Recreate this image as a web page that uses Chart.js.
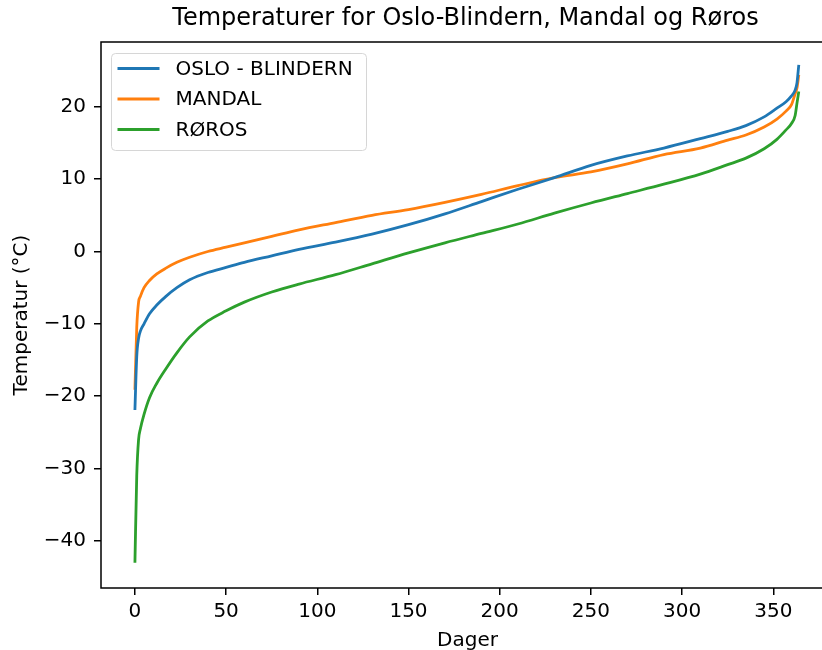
<!DOCTYPE html>
<html>
<head>
<meta charset="utf-8">
<script src="https://cdn.jsdelivr.net/npm/chart.js@4.4.1/dist/chart.umd.min.js"></script>
<style>
  html, body { margin: 0; padding: 0; background: #fff; overflow: hidden; }
  #wrap { width: 850px; height: 653px; }
</style>
</head>
<body>
<div id="wrap"><canvas id="chart" width="850" height="653"></canvas></div>
<script>
// sorted daily temperatures at these day indices
const days = [0, 1, 2, 3, 5, 8, 12, 17, 23, 30, 40, 50, 60, 75, 90, 110, 130, 150, 170, 190,
  210, 230, 250, 270, 290, 310, 325, 335, 345, 352, 357, 360, 362, 363, 364];
const oslo = [-21.9, -14.5, -12.0, -11.0, -10.0, -8.6, -7.4, -6.2, -5.0, -3.9, -2.9, -2.2, -1.5, -0.6, 0.3, 1.3, 2.4, 3.7, 5.2, 6.9,
  8.6, 10.2, 11.9, 13.2, 14.3, 15.6, 16.6, 17.4, 18.6, 19.8, 20.7, 21.5, 22.3, 23.3, 25.8];
const mandal = [-19.1, -10.5, -7.0, -6.2, -5.0, -4.0, -3.1, -2.3, -1.5, -0.8, 0.0, 0.6, 1.2, 2.1, 3.0, 4.0, 5.0, 5.8, 6.8, 7.9,
  9.1, 10.2, 11.0, 12.1, 13.4, 14.3, 15.4, 16.1, 17.2, 18.3, 19.4, 20.3, 21.8, 22.6, 24.4];
const roros = [-43.0, -31.0, -26.0, -24.5, -22.5, -20.2, -18.2, -16.2, -14.0, -11.8, -9.6, -8.2, -7.0, -5.6, -4.5, -3.2, -1.7, -0.2, 1.2, 2.5,
  3.8, 5.3, 6.7, 8.0, 9.3, 10.7, 12.0, 12.9, 14.2, 15.5, 16.8, 17.7, 18.8, 20.5, 22.1];

const seriesNames = ['OSLO - BLINDERN', 'MANDAL', 'RØROS'];
const colors = ['#1f77b4', '#ff7f0e', '#2ca02c'];
const xTicks = [0, 50, 100, 150, 200, 250, 300, 350];
const yTicks = [-40, -30, -20, -10, 0, 10, 20];
const titleText = 'Temperaturer for Oslo-Blindern, Mandal og Røros';

Chart.defaults.font.family = '"DejaVu Sans", sans-serif';
Chart.defaults.font.size = 20;
Chart.defaults.color = '#000';

const toPoints = vals => days.map((d, i) => ({ x: d, y: vals[i] }));

// matplotlib-like frame, title over the axes and legend inside them
const frame = {
  id: 'frame',
  afterDatasetsDraw(chart) {
    const { ctx, chartArea: a } = chart;
    ctx.save();
    ctx.strokeStyle = '#000';
    ctx.lineWidth = 1.5;
    ctx.strokeRect(a.left, a.top, a.right - a.left, a.bottom - a.top);

    ctx.fillStyle = '#000';
    ctx.font = '24px "DejaVu Sans"';
    ctx.textAlign = 'center';
    ctx.textBaseline = 'middle';
    ctx.fillText(titleText, (a.left + a.right) / 2 - 2, 19);

    const x = a.left + 10.5, y = a.top + 11.5, w = 255, h = 97;
    ctx.beginPath();
    ctx.roundRect(x, y, w, h, 4);
    ctx.fillStyle = 'rgba(255,255,255,0.8)';
    ctx.fill();
    ctx.strokeStyle = '#d6d6d6';
    ctx.lineWidth = 1;
    ctx.stroke();
    ctx.font = '20px "DejaVu Sans"';
    ctx.textAlign = 'left';
    chart.data.datasets.forEach((ds, i) => {
      const cy = y + 15 + i * 30.5;
      ctx.strokeStyle = ds.borderColor;
      ctx.lineWidth = ds.borderWidth;
      ctx.beginPath();
      ctx.moveTo(x + 6, cy);
      ctx.lineTo(x + 48, cy);
      ctx.stroke();
      ctx.fillStyle = '#000';
      ctx.fillText(ds.label, x + 64, cy + 1);
    });
    ctx.restore();
  }
};

new Chart(document.getElementById('chart'), {
  type: 'line',
  data: {
    datasets: [oslo, mandal, roros].map((vals, i) => ({
      label: seriesNames[i],
      data: toPoints(vals),
      borderColor: colors[i],
      backgroundColor: colors[i],
      borderWidth: 2.8,
      pointRadius: 0,
      cubicInterpolationMode: 'monotone',
      fill: false
    }))
  },
  options: {
    responsive: false,
    animation: false,
    layout: { padding: { left: 0, right: 16, top: 42, bottom: 0 } },
    plugins: {
      legend: { display: false },
      tooltip: { enabled: false },
      title: { display: false }
    },
    scales: {
      x: {
        type: 'linear',
        min: -18.6,
        max: 383.3,
        afterFit: s => { s.height = 65; },
        afterBuildTicks: s => { s.ticks = xTicks.map(v => ({ value: v })); },
        border: { display: false },
        grid: { drawOnChartArea: false, drawTicks: true, tickLength: 7, color: '#000', lineWidth: 1.5 },
        ticks: { padding: 5, maxRotation: 0, autoSkip: false },
        title: { display: true, text: 'Dager', padding: { top: 0, bottom: 0 } }
      },
      y: {
        type: 'linear',
        min: -46.5,
        max: 28.95,
        afterFit: s => { s.width = 101; },
        afterBuildTicks: s => { s.ticks = yTicks.map(v => ({ value: v })); },
        border: { display: false },
        grid: { drawOnChartArea: false, drawTicks: true, tickLength: 7, color: '#000', lineWidth: 1.5 },
        ticks: {
          padding: 8,
          autoSkip: false,
          callback: v => (v < 0 ? '\u2212' + Math.abs(v) : String(v))
        },
        title: { display: true, text: 'Temperatur (°C)', padding: { top: 10, bottom: 0 } }
      }
    }
  },
  plugins: [frame]
});
</script>
</body>
</html>
